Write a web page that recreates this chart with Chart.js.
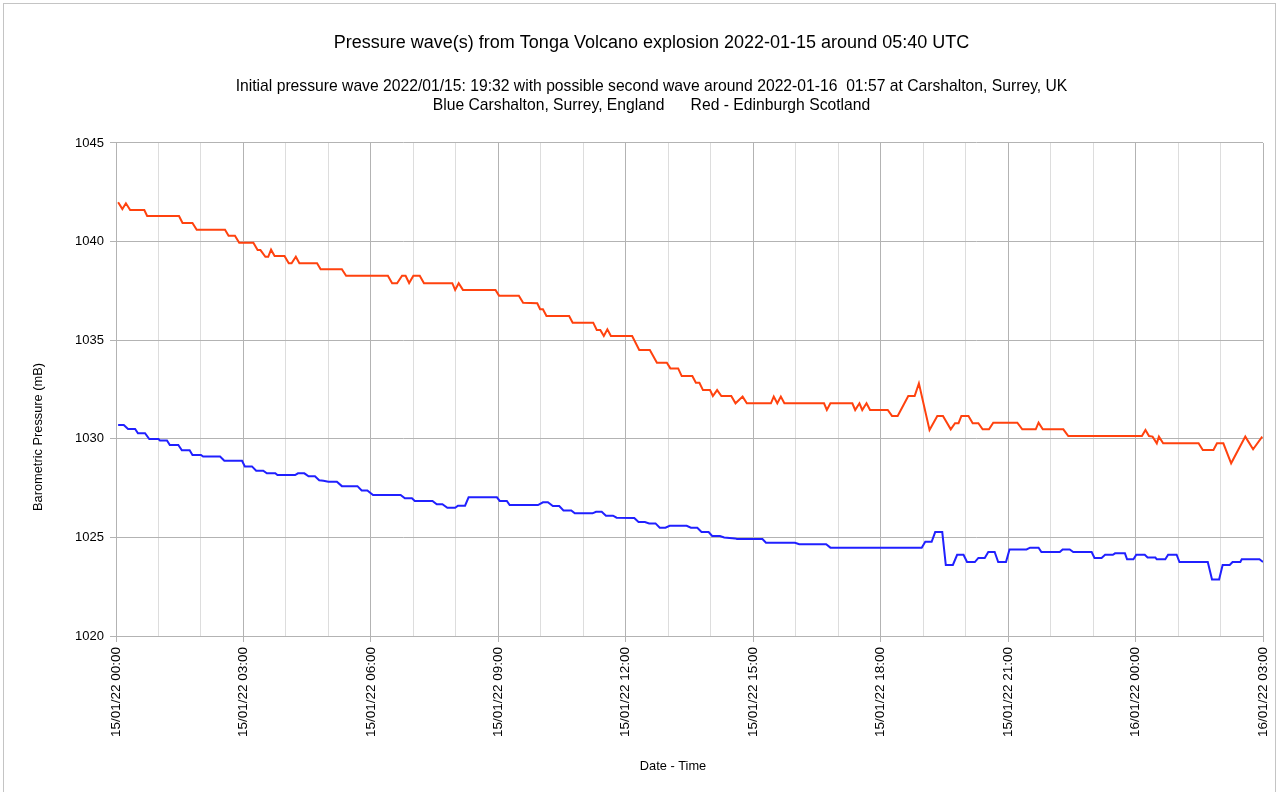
<!DOCTYPE html>
<html>
<head>
<meta charset="utf-8">
<script src="https://cdn.jsdelivr.net/npm/chart.js@4"></script>
<style>
  body { margin: 0; background: #fff; }
  #wrap { position: relative; width: 1281px; height: 792px; }
  #frame { position: absolute; left: 3px; top: 3px; width: 1273px; height: 800px; border: 1px solid #c4c4c4; box-sizing: border-box; }
</style>
</head>
<body>
<div id="wrap">
  <div id="frame"></div>
  <canvas id="pressureChart"></canvas>
</div>
<script>
// minutes after 15/01/22 00:00
const redTimes = [3, 9, 14, 20, 40, 44, 89, 94, 108, 114, 154, 159, 168, 174, 194, 200, 204, 211, 215, 219, 224, 238, 244, 248, 254, 259, 284, 289, 319, 325,
  384, 390, 397, 404, 409, 414, 420, 429, 435, 475, 479, 484, 490, 536, 541, 569, 575, 595, 599, 603, 608, 640, 645, 674, 679, 684, 689, 694, 699, 729,
  739, 754, 764, 778, 783, 794, 799, 814, 819, 824, 829, 839, 843, 849, 855, 869, 875, 885, 891, 925, 929, 934, 939, 944, 1000, 1004, 1009, 1040, 1044, 1050,
  1054, 1060, 1065, 1090, 1096, 1104, 1119, 1128, 1134, 1149, 1160, 1168, 1179, 1185, 1190, 1194, 1204, 1210, 1218, 1224, 1233, 1239, 1273, 1280, 1299, 1303, 1309, 1338,
  1345, 1449, 1454, 1459, 1464, 1470, 1473, 1479, 1529, 1535, 1550, 1555, 1564, 1575, 1595, 1606, 1619];
const redValues = [1042.0, 1041.65, 1041.94, 1041.6, 1041.6, 1041.3, 1041.3, 1040.94, 1040.94, 1040.6, 1040.6, 1040.3, 1040.3, 1039.94, 1039.94, 1039.57, 1039.57, 1039.23, 1039.23, 1039.59, 1039.27, 1039.27, 1038.9, 1038.9, 1039.23, 1038.9, 1038.9, 1038.6, 1038.6, 1038.27,
  1038.27, 1037.89, 1037.89, 1038.27, 1038.27, 1037.9, 1038.27, 1038.27, 1037.89, 1037.89, 1037.55, 1037.89, 1037.55, 1037.55, 1037.26, 1037.26, 1036.9, 1036.87, 1036.57, 1036.57, 1036.23, 1036.23, 1035.89, 1035.89, 1035.52, 1035.52, 1035.21, 1035.55, 1035.21, 1035.21,
  1034.5, 1034.5, 1033.86, 1033.86, 1033.57, 1033.57, 1033.18, 1033.18, 1032.84, 1032.84, 1032.47, 1032.47, 1032.17, 1032.47, 1032.17, 1032.17, 1031.8, 1032.14, 1031.8, 1031.8, 1032.14, 1031.8, 1032.14, 1031.8, 1031.8, 1031.46, 1031.8, 1031.8, 1031.46, 1031.8,
  1031.46, 1031.8, 1031.46, 1031.46, 1031.16, 1031.16, 1032.17, 1032.17, 1032.81, 1030.45, 1031.16, 1031.16, 1030.48, 1030.79, 1030.79, 1031.16, 1031.16, 1030.79, 1030.79, 1030.48, 1030.48, 1030.82, 1030.82, 1030.48, 1030.48, 1030.82, 1030.48, 1030.48,
  1030.14, 1030.14, 1030.45, 1030.14, 1030.11, 1029.77, 1030.11, 1029.77, 1029.77, 1029.43, 1029.43, 1029.77, 1029.77, 1028.76, 1030.11, 1029.47, 1030.11];

const blueTimes = [3, 11, 17, 27, 31, 41, 47, 60, 62, 72, 76, 88, 93, 104, 108, 120, 123, 147, 153, 178, 182, 192, 198, 208, 213, 225, 228, 253, 257, 266,
  272, 281, 287, 293, 300, 312, 319, 341, 347, 355, 363, 402, 408, 418, 422, 447, 453, 461, 468, 479, 483, 493, 498, 538, 542, 552, 556, 596, 603, 610,
  617, 626, 632, 643, 648, 673, 678, 686, 692, 702, 707, 732, 738, 747, 753, 762, 768, 776, 782, 806, 812, 821, 827, 837, 842, 853, 859, 874, 877, 913,
  918, 959, 965, 1003, 1009, 1138, 1143, 1152, 1157, 1167, 1172, 1182, 1188, 1197, 1202, 1213, 1218, 1227, 1232, 1241, 1246, 1257, 1262, 1286, 1291, 1303, 1307, 1333, 1337, 1347,
  1352, 1378, 1382, 1392, 1397, 1408, 1411, 1425, 1428, 1437, 1441, 1453, 1457, 1468, 1470, 1482, 1486, 1498, 1502, 1542, 1548, 1558, 1563, 1573, 1577, 1588, 1590, 1615, 1620];
const blueValues = [1030.7, 1030.7, 1030.5, 1030.5, 1030.28, 1030.28, 1029.99, 1029.99, 1029.92, 1029.92, 1029.69, 1029.69, 1029.42, 1029.42, 1029.18, 1029.18, 1029.1, 1029.1, 1028.89, 1028.89, 1028.6, 1028.6, 1028.38, 1028.38, 1028.25, 1028.25, 1028.16, 1028.16, 1028.25, 1028.25,
  1028.1, 1028.1, 1027.9, 1027.87, 1027.82, 1027.82, 1027.6, 1027.6, 1027.38, 1027.38, 1027.15, 1027.15, 1026.98, 1026.98, 1026.85, 1026.85, 1026.68, 1026.68, 1026.5, 1026.5, 1026.61, 1026.61, 1027.03, 1027.03, 1026.85, 1026.85, 1026.64, 1026.64, 1026.78, 1026.78,
  1026.59, 1026.59, 1026.37, 1026.37, 1026.22, 1026.22, 1026.3, 1026.3, 1026.1, 1026.1, 1026.0, 1025.98, 1025.78, 1025.78, 1025.71, 1025.71, 1025.49, 1025.49, 1025.59, 1025.59, 1025.49, 1025.49, 1025.27, 1025.27, 1025.07, 1025.07, 1025.0, 1024.95, 1024.92, 1024.92,
  1024.73, 1024.73, 1024.65, 1024.65, 1024.48, 1024.48, 1024.78, 1024.78, 1025.27, 1025.27, 1023.6, 1023.6, 1024.12, 1024.12, 1023.75, 1023.75, 1023.96, 1023.96, 1024.26, 1024.26, 1023.75, 1023.75, 1024.39, 1024.39, 1024.48, 1024.48, 1024.26, 1024.26, 1024.39, 1024.39,
  1024.26, 1024.26, 1023.96, 1023.96, 1024.12, 1024.12, 1024.19, 1024.19, 1023.89, 1023.89, 1024.12, 1024.12, 1023.98, 1023.98, 1023.89, 1023.89, 1024.12, 1024.12, 1023.75, 1023.75, 1022.87, 1022.87, 1023.6, 1023.6, 1023.75, 1023.75, 1023.89, 1023.89, 1023.75];

// one label every 3 hours
const tickLabels = ["15/01/22 00:00", "15/01/22 03:00", "15/01/22 06:00", "15/01/22 09:00", "15/01/22 12:00",
  "15/01/22 15:00", "15/01/22 18:00", "15/01/22 21:00", "16/01/22 00:00", "16/01/22 03:00"];

const font = "'Liberation Sans', Arial, sans-serif";
const majorGrid = "#b3b3b3";
const minorGrid = "#dddddd";

// axis titles drawn where LibreOffice put them
const axisTitles = {
  id: "axisTitles",
  afterDraw(chart) {
    const ctx = chart.ctx;
    ctx.save();
    ctx.font = "12.8px " + font;
    ctx.fillStyle = "#000";
    ctx.textAlign = "center";
    ctx.textBaseline = "middle";
    ctx.fillText("Date - Time", 673, 766);
    ctx.translate(38, 437);
    ctx.rotate(-Math.PI / 2);
    ctx.fillText("Barometric Pressure (mB)", 0, 0);
    ctx.restore();
  }
};

new Chart("pressureChart", {
  type: "line",
  data: {
    datasets: [
      {
        label: "Edinburgh",
        data: redTimes.map((t, i) => ({ x: t, y: redValues[i] })),
        borderColor: "#ff420e",
        borderWidth: 2,
        pointRadius: 0,
        tension: 0
      },
      {
        label: "Carshalton",
        data: blueTimes.map((t, i) => ({ x: t, y: blueValues[i] })),
        borderColor: "#2020ff",
        borderWidth: 2,
        pointRadius: 0,
        tension: 0
      }
    ]
  },
  options: {
    responsive: true,
    maintainAspectRatio: false,
    animation: false,
    layout: { padding: { left: 37, right: 15, top: 0, bottom: 0 } },
    plugins: {
      legend: { display: false },
      tooltip: { enabled: false },
      title: {
        display: true,
        text: "Pressure wave(s) from Tonga Volcano explosion 2022-01-15 around 05:40 UTC",
        color: "#000",
        font: { family: font, size: 18, weight: "normal" },
        padding: { top: 32.2, bottom: 23.7 }
      },
      subtitle: {
        display: true,
        text: ["Initial pressure wave 2022/01/15: 19:32 with possible second wave around 2022-01-16  01:57 at Carshalton, Surrey, UK",
               "Blue Carshalton, Surrey, England      Red - Edinburgh Scotland"],
        color: "#000",
        font: { family: font, size: 15.7, weight: "normal", lineHeight: 1.21 },
        padding: { top: 0, bottom: 27.5 }
      }
    },
    scales: {
      x: {
        type: "linear",
        min: 0,
        max: 1620,
        afterFit: (s) => { s.height = 156; s.paddingLeft = 0; s.paddingRight = 18; },
        ticks: {
          stepSize: 60,
          autoSkip: false,
          maxRotation: 90,
          minRotation: 90,
          padding: 5,
          color: "#000",
          font: { family: font, size: 13.5 },
          callback: (v) => (v % 180 === 0 ? tickLabels[v / 180] : "")
        },
        grid: {
          color: (c) => (c.tick && c.tick.value % 180 === 0 ? majorGrid : minorGrid),
          tickColor: (c) => (c.tick && c.tick.value % 180 === 0 ? majorGrid : "rgba(0,0,0,0)"),
          tickLength: 6
        },
        border: { color: majorGrid }
      },
      y: {
        min: 1020,
        max: 1045,
        afterFit: (s) => { s.width = 79; },
        ticks: {
          stepSize: 5,
          padding: 6,
          color: "#000",
          font: { family: font, size: 13 },
          callback: (v) => String(v)
        },
        grid: { color: majorGrid, tickColor: majorGrid, tickLength: 6 },
        border: { color: majorGrid }
      }
    }
  },
  plugins: [axisTitles]
});
</script>
</body>
</html>
